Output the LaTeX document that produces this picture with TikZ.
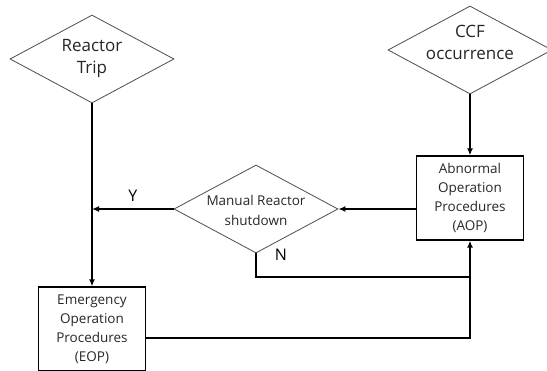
\documentclass[tikz,border=0pt]{standalone}
\usepackage{fontspec}
\setmainfont{Open Sans}
\usetikzlibrary{shapes.geometric,arrows.meta}

\begin{document}
\begin{tikzpicture}[x=1pt,y=-1pt,
    decision/.style={diamond, draw=black!70, line width=0.8pt, inner sep=0pt,
        minimum width=164pt, minimum height=88pt},
    bigtext/.style={align=center, text=black!85, font=\fontsize{17}{22}\selectfont},
    smalltext/.style={align=center, text=black!85, font=\fontsize{13.5}{19}\selectfont},
    procbox/.style={draw, line width=1.3pt, minimum width=107pt, minimum height=84pt,
        inner sep=0pt, smalltext},
    conn/.style={line width=1.8pt},
    flow/.style={conn, -{Latex[length=7pt,width=6pt]}},
    yn/.style={font=\fontsize{16}{16}\selectfont}]
\useasboundingbox (0,0) rectangle (547,371);
%decisions
\node[decision] (trip) at (92,59) {};
\node[bigtext] (triptext) at (92,58) {Reactor\\Trip};
\node[decision] (ccf) at (470,50) {};
\node[bigtext] (ccftext) at (470,42) {CCF\\occurrence};
\node[decision] (mrs) at (256,209) {};
\node[smalltext, font=\fontsize{13.5}{20}\selectfont] (mrstext) at (256,210) {Manual Reactor\\shutdown};
%procedures
\node[procbox] (aop) at (470,198) {Abnormal\\Operation\\Procedures\\(AOP)};
\node[procbox] (eop) at (92,329) {Emergency\\Operation\\Procedures\\(EOP)};
%connectors
\draw[flow] (trip.south) -- (eop.north);
\draw[flow] (ccf.south) -- (aop.north);
\draw[flow] (aop.west |- mrs.east) -- (mrs.east);
\draw[flow] (mrs.west) -- (trip.south |- mrs.west) node[midway, above=3pt, yn] (ylab) {Y};
\coordinate (njoin) at (470,277);
\draw[conn] (mrs.south) |- (njoin);
\node[yn] (nlab) at (281,255) {N};
\draw[flow] ([yshift=-9pt]eop.east) -| (aop.south);
\end{tikzpicture}
\end{document}
